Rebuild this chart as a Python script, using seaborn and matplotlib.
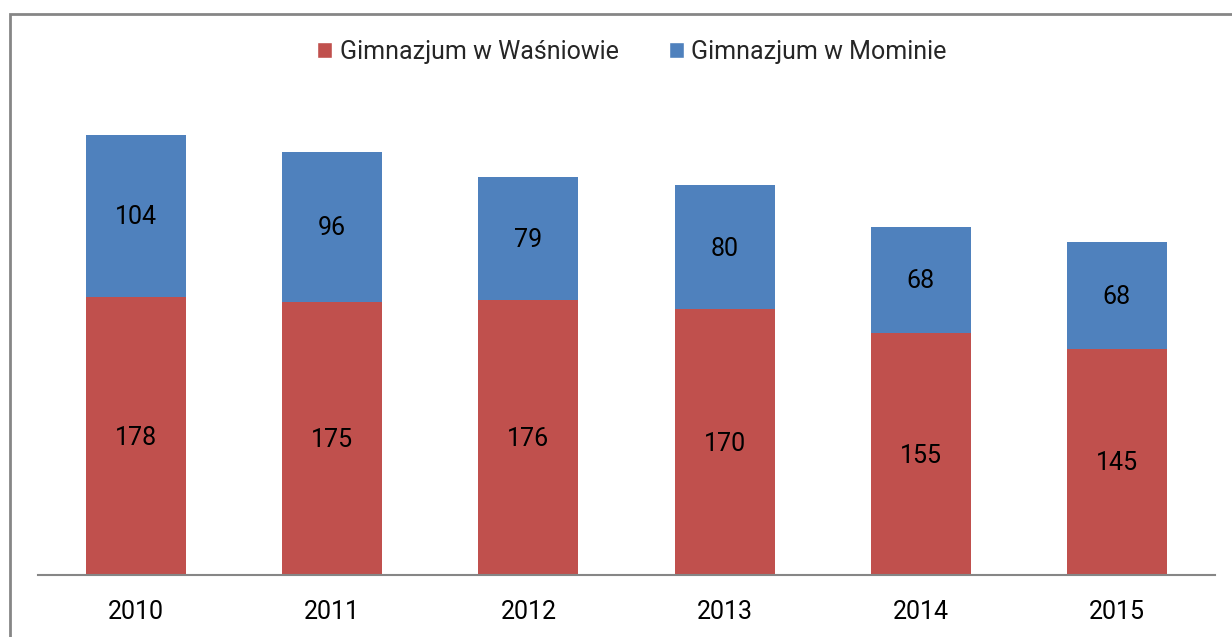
# Stacked bar chart: gimnazjum students per year, two schools

import pandas as pd
import matplotlib.pyplot as plt
import seaborn as sns
from matplotlib.patches import Rectangle, Patch

years = ['2010', '2011', '2012', '2013', '2014', '2015']
wasniow = [178, 175, 176, 170, 155, 145]
mominie = [104, 96, 79, 80, 68, 68]

df = pd.DataFrame({'Rok': years, 'Wasniow': wasniow, 'Mominie': mominie})
df['Razem'] = df['Wasniow'] + df['Mominie']

red = '#C0504D'
blue = '#4F81BD'

sns.set_theme(style='white')
plt.rcParams['font.family'] = ['Roboto', 'DejaVu Sans']

fig = plt.figure(figsize=(12.32, 6.37), dpi=100)
ax = fig.add_axes([38 / 1232, 62 / 637, (1215 - 38) / 1232, 467 / 637])

# blue on the full height, red drawn over it from zero
sns.barplot(data=df, x='Rok', y='Razem', color=blue, width=0.51, saturation=1, linewidth=0, ax=ax)
sns.barplot(data=df, x='Rok', y='Wasniow', color=red, width=0.51, saturation=1, linewidth=0, ax=ax)

for i in range(len(years)):
    ax.text(i, wasniow[i] / 2 - 1, str(wasniow[i]), ha='center', va='center', fontsize=18, color='#000000')
    ax.text(i, wasniow[i] + mominie[i] / 2 - 1, str(mominie[i]), ha='center', va='center', fontsize=18, color='#000000')

ax.set_ylim(0, 299)
ax.set_xlim(-0.5, 5.5)
ax.set_xlabel('')
ax.set_ylabel('')
ax.set_yticks([])
ax.tick_params(axis='x', labelsize=18, length=0, pad=18, colors='#000000')
for side in ['left', 'right', 'top']:
    ax.spines[side].set_visible(False)
ax.spines['bottom'].set_color('#868686')
ax.spines['bottom'].set_linewidth(1.5)

handles = [Patch(facecolor=red, label='Gimnazjum w Waśniowie'),
           Patch(facecolor=blue, label='Gimnazjum w Mominie')]
fig.legend(handles=handles, loc='center', bbox_to_anchor=(632 / 1232, 1 - 52 / 637), ncol=2,
           frameon=False, fontsize=18, handlelength=0.6, handleheight=0.6,
           handletextpad=0.3, columnspacing=2.0)

# outer chart frame
fig.patches.append(Rectangle((9.5 / 1232, -0.1), 1.2, 1.1 - 13.5 / 637, transform=fig.transFigure,
                             fill=False, edgecolor='#868686', linewidth=2))

fig.savefig('out.png', dpi=100)
